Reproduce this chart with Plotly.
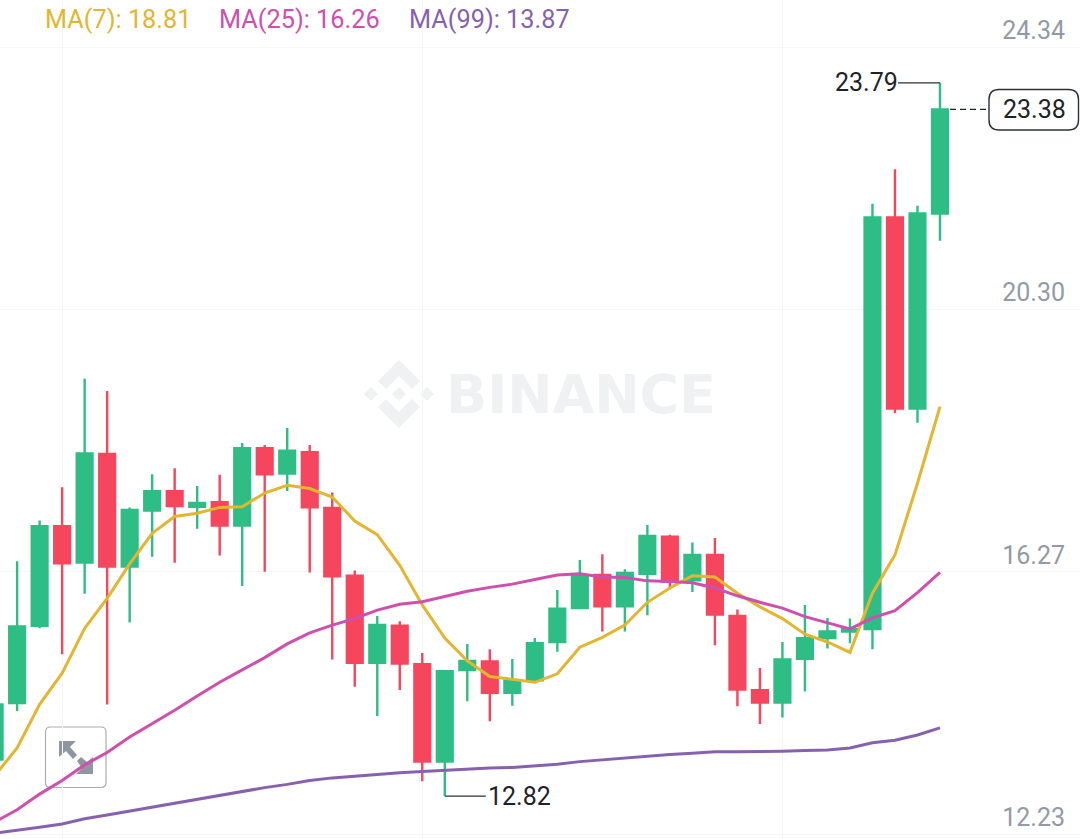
import plotly.graph_objects as go

# ---- data ----
candle_index = list(range(43))
opens = [13.38,14.25,15.44,16.97,16.41,18.08,16.35,17.21,17.51,17.27,17.34,16.98,18.17,17.78,18.11,17.25,16.21,14.87,15.44,14.85,13.35,14.76,14.89,14.41,14.60,15.19,15.71,16.22,15.74,16.24,16.81,16.14,16.53,15.59,14.45,14.26,14.93,15.25,15.35,15.39,21.72,18.78,21.78]
highs = [14.23,16.43,17.06,17.57,19.24,19.05,17.26,17.77,17.86,17.59,17.76,18.25,18.22,18.48,18.22,17.49,16.29,15.59,15.51,15.02,14.76,15.16,15.08,14.93,15.25,15.99,16.45,16.54,16.31,16.99,16.84,16.72,16.79,15.69,14.79,15.19,15.76,15.56,15.55,21.93,22.46,21.90,23.79]
lows = [13.38,14.13,15.40,15.00,15.93,14.23,15.49,16.50,16.41,16.93,16.52,16.05,16.27,17.51,16.26,14.92,14.50,14.05,14.45,13.05,12.82,14.28,13.97,14.21,14.56,15.04,15.71,15.35,15.35,15.60,16.02,15.96,15.14,14.20,13.93,14.03,14.43,15.09,15.17,15.08,18.71,18.56,21.36]
closes = [14.23,15.43,16.97,16.40,18.09,16.35,17.22,17.51,17.28,17.33,16.98,18.17,17.77,18.13,17.26,16.20,14.87,15.45,14.86,13.35,14.74,14.90,14.41,14.60,15.17,15.70,16.21,15.74,16.25,16.82,16.12,16.53,15.61,14.46,14.26,14.92,15.25,15.35,15.39,21.72,18.78,21.78,23.38]
ma7 = [13.13,13.56,14.23,14.71,15.40,15.86,16.39,16.86,17.12,17.17,17.26,17.27,17.48,17.60,17.55,17.42,17.05,16.84,16.37,15.76,15.25,14.90,14.66,14.62,14.57,14.70,15.11,15.26,15.45,15.80,16.02,16.21,16.19,15.94,15.73,15.55,15.31,15.19,15.03,15.94,16.53,17.63,18.81]
ma25 = [12.42,12.61,12.85,13.06,13.30,13.49,13.73,13.93,14.14,14.36,14.57,14.76,14.95,15.16,15.33,15.45,15.55,15.68,15.77,15.81,15.89,15.97,16.03,16.08,16.15,16.22,16.24,16.19,16.18,16.13,16.12,16.10,16.02,15.90,15.80,15.71,15.58,15.48,15.39,15.56,15.67,15.95,16.26]
ma99 = [12.25,12.29,12.34,12.39,12.47,12.53,12.59,12.66,12.72,12.78,12.83,12.89,12.95,13.00,13.06,13.10,13.13,13.15,13.18,13.20,13.22,13.24,13.25,13.26,13.28,13.31,13.35,13.38,13.41,13.44,13.46,13.48,13.50,13.50,13.50,13.51,13.52,13.53,13.56,13.64,13.68,13.76,13.87]
y_ticks = [12.23, 16.27, 20.30, 24.34]
y_tick_labels = ["12.23", "16.27", "20.30", "24.34"]
x_grid_candles = [3, 19, 35]
legend_labels = ["MA(7): 18.81", "MA(25): 16.26", "MA(99): 13.87"]
high_label, low_label, last_label = "23.79", "12.82", "23.38"
high_value, low_value, last_value = 23.79, 12.82, 23.38
high_candle, low_candle = 42, 20

W, H = 1080, 839
GREEN, RED = "#2EBD85", "#F6465D"
GOLD, PINK, PURPLE = "#E3B530", "#CE4FAE", "#8761AE"
TEXT, GREY = "#1E2329", "#929AA5"
FONT = "Roboto"
STEP = 22.51          # px per candle


def px(x, y):
    return f"{x / W:.5f},{1 - y / H:.5f}"


def poly(points):
    return "M" + " L".join(px(*p) for p in points) + " Z"


def round_rect(x0, y0, x1, y1, r):
    return (f"M{px(x0 + r, y0)} L{px(x1 - r, y0)} Q{px(x1, y0)} {px(x1, y0 + r)} "
            f"L{px(x1, y1 - r)} Q{px(x1, y1)} {px(x1 - r, y1)} "
            f"L{px(x0 + r, y1)} Q{px(x0, y1)} {px(x0, y1 - r)} "
            f"L{px(x0, y0 + r)} Q{px(x0, y0)} {px(x0 + r, y0)} Z")


fig = go.Figure()
fig.add_trace(go.Candlestick(
    x=candle_index, open=opens, high=highs, low=lows, close=closes,
    increasing=dict(line=dict(color=GREEN, width=2.4), fillcolor=GREEN),
    decreasing=dict(line=dict(color=RED, width=2.4), fillcolor=RED),
    whiskerwidth=0, hoverinfo="skip", showlegend=False,
))
for name, vals, color in [("MA(7)", ma7, GOLD), ("MA(25)", ma25, PINK), ("MA(99)", ma99, PURPLE)]:
    fig.add_trace(go.Scatter(x=candle_index, y=vals, mode="lines", name=name,
                             line=dict(color=color, width=3), hoverinfo="skip", showlegend=False))

shapes = []
# watermark logo
WM = "#F0F1F2"
cx, cy = 399, 394
for dx in (-28, 0, 28):
    shapes.append(dict(type="path", xref="paper", yref="paper", layer="below", fillcolor=WM, line_width=0,
                       path=poly([(cx + dx - 7, cy), (cx + dx, cy - 7), (cx + dx + 7, cy), (cx + dx, cy + 7)])))
for s in (-1, 1):
    shapes.append(dict(type="path", xref="paper", yref="paper", layer="below", fillcolor=WM, line_width=0,
                       path=poly([(cx, cy + s * 34), (cx + 21, cy + s * 13), (cx + 13, cy + s * 5),
                                  (cx, cy + s * 18), (cx - 13, cy + s * 5), (cx - 21, cy + s * 13)])))
# expand button
BTN = "#8F96A0"
shapes.append(dict(type="path", xref="paper", yref="paper", layer="below", fillcolor="rgba(255,255,255,0)",
                   line=dict(color="#A8ADB4", width=1.2), path=round_rect(45.5, 727, 106, 787.5, 5)))
shapes.append(dict(type="path", xref="paper", yref="paper", layer="below", fillcolor=BTN, line_width=0,
                   path=poly([(59, 741), (76, 741), (70, 747), (77, 755), (73, 759), (66, 751), (59, 757)])))
shapes.append(dict(type="path", xref="paper", yref="paper", layer="below", fillcolor=BTN, line_width=0,
                   path=poly([(93, 774), (76, 774), (82, 768), (77, 761), (81, 757), (87, 762), (93, 757)])))
# leader lines for the high and low labels
shapes.append(dict(type="line", xref="x", yref="y", x0=high_candle, x1=high_candle - 42 / STEP,
                   y0=high_value, y1=high_value, line=dict(color="#2B3139", width=1.3)))
shapes.append(dict(type="line", xref="x", yref="y", x0=low_candle, x1=low_candle + 41 / STEP,
                   y0=low_value, y1=low_value, line=dict(color="#2B3139", width=1.3)))
# current price dashed line and pill
shapes.append(dict(type="line", xref="x", yref="y", x0=high_candle + 10 / STEP, x1=high_candle + 48 / STEP,
                   y0=last_value, y1=last_value, line=dict(color="#1E2329", width=1.2, dash="6px,4px")))
shapes.append(dict(type="path", xref="paper", yref="paper", fillcolor="#FFFFFF",
                   line=dict(color="#2B3139", width=1.4), path=round_rect(989, 89.5, 1078.5, 130, 10)))
fig.update_layout(shapes=shapes)

annotations = []
for text, x, color in zip(legend_labels, (43.5, 218, 408), (GOLD, PINK, PURPLE)):
    annotations.append(dict(text=text, x=x / W, y=1 - 20 / H, xref="paper", yref="paper", xanchor="left",
                            yanchor="middle", showarrow=False, borderpad=0, font=dict(family=FONT, size=25.3, color=color)))
annotations.append(dict(text="BINANCE", x=581 / W, y=1 - 394 / H, xref="paper", yref="paper", xanchor="center",
                        yanchor="middle", showarrow=False, font=dict(family="DejaVu Sans", size=54, color=WM, weight=700)))
annotations.append(dict(text=high_label, x=high_candle - 41 / STEP, y=high_value, xref="x", yref="y",
                        xanchor="right", yanchor="middle", showarrow=False, borderpad=0,
                        font=dict(family=FONT, size=25, color=TEXT)))
annotations.append(dict(text=low_label, x=low_candle + 42 / STEP, y=low_value, xref="x", yref="y",
                        xanchor="left", yanchor="middle", showarrow=False, borderpad=0,
                        font=dict(family=FONT, size=25, color=TEXT)))
annotations.append(dict(text=last_label, x=1034.5 / W, y=last_value, xref="paper", yref="y",
                        xanchor="center", yanchor="middle", showarrow=False, borderpad=0,
                        font=dict(family=FONT, size=25, color=TEXT)))

fig.update_layout(
    width=W, height=H, margin=dict(l=0, r=0, t=0, b=0),
    paper_bgcolor="#FFFFFF", plot_bgcolor="#FFFFFF",
    boxgap=0.0, hovermode=False,
    annotations=annotations,
    xaxis=dict(range=[0.24, 48.22], rangeslider=dict(visible=False), tickmode="array",
               tickvals=x_grid_candles, showticklabels=False, ticks="", showgrid=True,
               gridcolor="#F6F6F6", gridwidth=1, zeroline=False, showline=False, fixedrange=True),
    yaxis=dict(range=[12.16, 25.063], side="right", tickmode="array", tickvals=y_ticks, ticktext=y_tick_labels,
               ticklabelposition="inside", ticklabelstandoff=12, ticklabelshift=-17, ticks="",
               tickfont=dict(family=FONT, size=25, color=GREY), showgrid=True, gridcolor="#F6F6F6",
               gridwidth=1, zeroline=False, showline=False, fixedrange=True),
)

fig.write_html("out.html", config={"displayModeBar": False},
               post_script="document.body.style.margin='0';document.documentElement.style.overflow='hidden';")
